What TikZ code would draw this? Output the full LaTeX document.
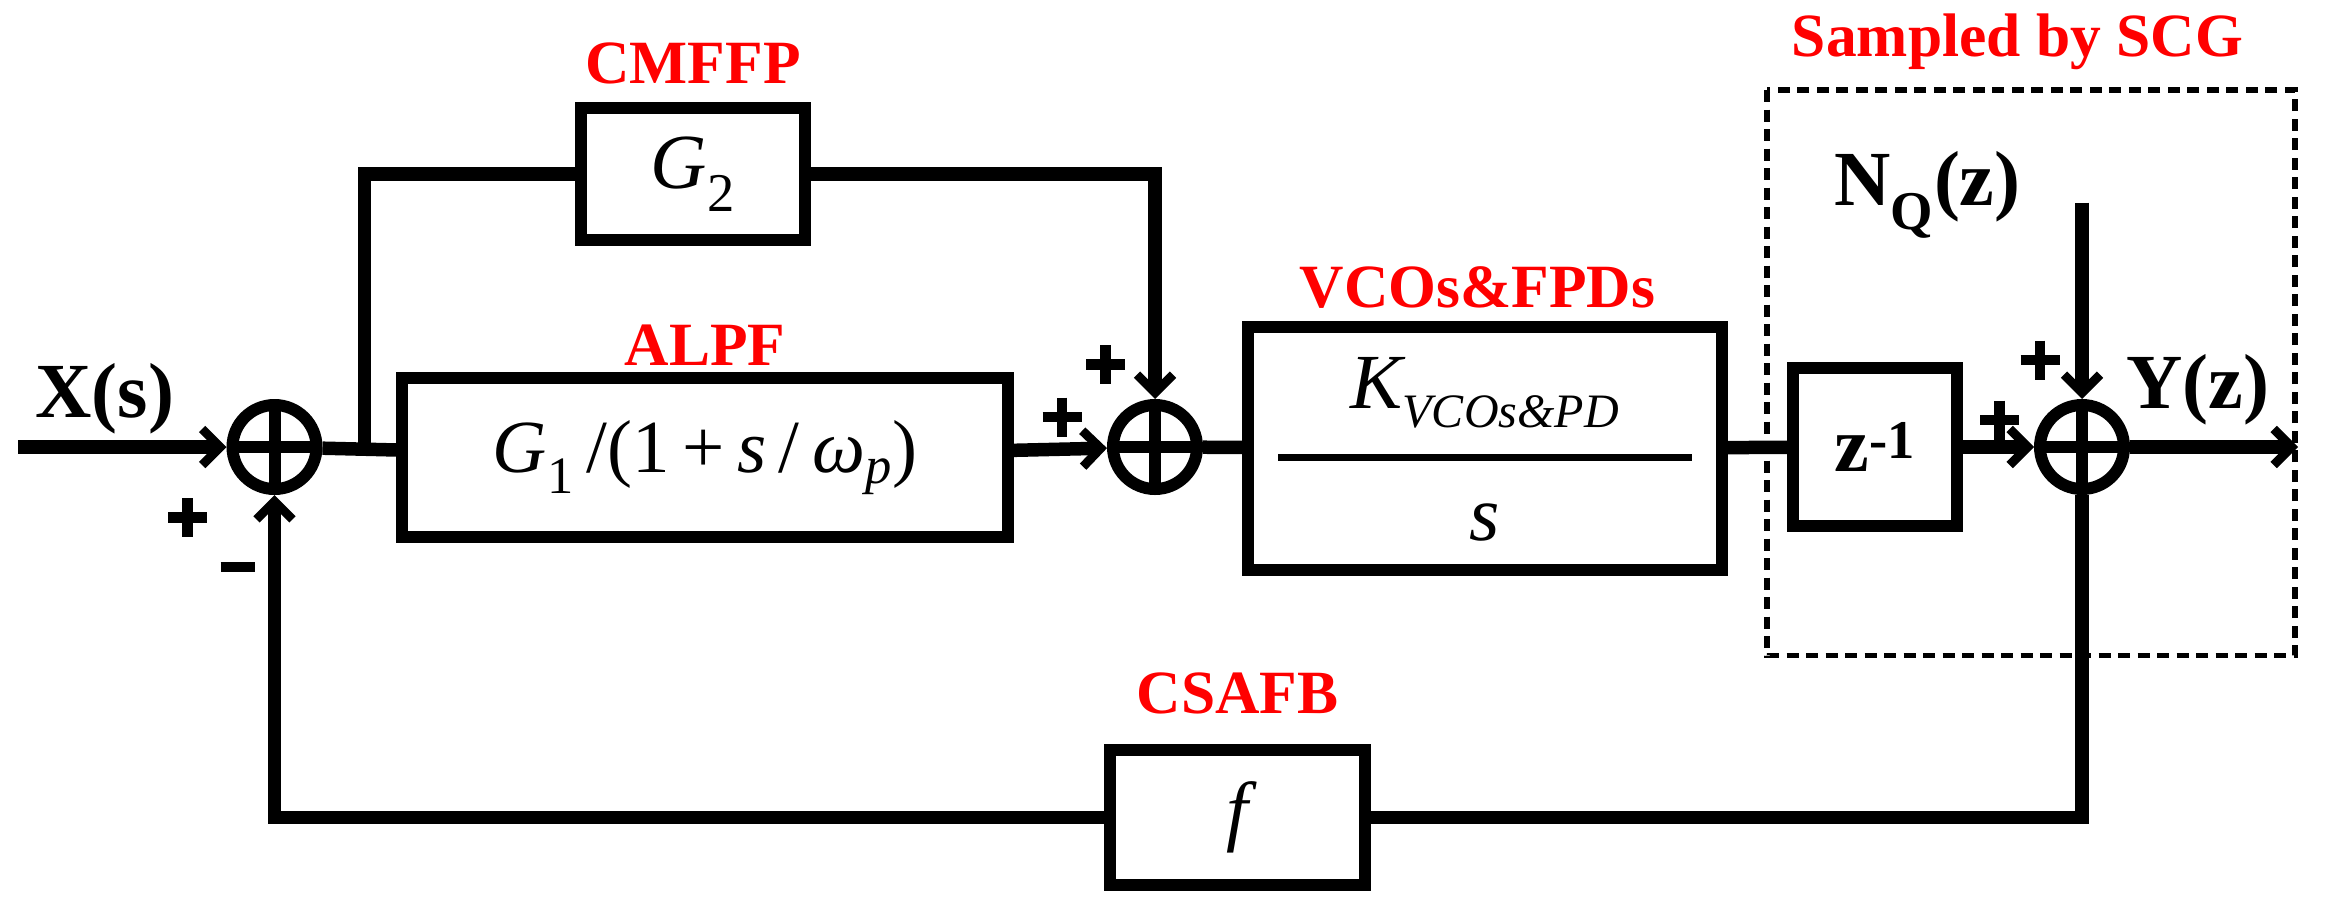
\documentclass[tikz,border=0pt]{standalone}
\usepackage{fontspec}
\setmainfont{Liberation Serif}
\usetikzlibrary{arrows.meta}
\begin{document}
\begin{tikzpicture}[x=1pt,y=-1pt,line width=9pt,
 blk/.style={draw,line width=8pt,minimum width=#1,inner sep=0pt},
 sum/.style={draw,circle,minimum size=56pt,inner sep=0pt,line width=8pt,
   path picture={\draw[line width=8pt] (path picture bounding box.north)--(path picture bounding box.south)
   (path picture bounding box.west)--(path picture bounding box.east);}},
 arr/.style={-{Straight Barb[length=12pt,width=24pt,line width=6pt]}},
 lbl/.style={text=red,font=\fontsize{41}{44}\selectfont\bfseries},
 pl/.style={line width=7pt},
 txt/.style={font=\fontsize{52}{56}\selectfont\bfseries}]
\useasboundingbox (0,0) rectangle (1560,606);
\node[sum] (s1) at (183,298) {};
\node[sum] (s2) at (770,298) {};
\node[sum] (s3) at (1388,298) {};
\node[blk=149pt,minimum height=88pt] (g2) at (462,116) {\fontsize{52}{56}\selectfont\itshape G\textsubscript{\upshape 2}};
\node[blk=404pt,minimum height=106pt] (a) at (470,305) {\fontsize{50}{56}\selectfont\itshape G\textsubscript{\upshape 1}\upshape\,/(1\,+\,\itshape s\upshape\,/\,\itshape ω\textsubscript{p}\upshape)};
\node[blk=316pt,minimum height=162pt] (v) at (990,299) {};
\draw[line width=5pt] (852,305) -- (1128,305);
\node[font=\fontsize{52}{56}\selectfont\itshape] (vk) at (990,262) {K\textsubscript{\fontsize{32}{34}\selectfont VCOs\&PD}};
\node[font=\fontsize{52}{56}\selectfont\itshape] (vs) at (990,348) {s};
\node[blk=109pt,minimum height=105pt] (z) at (1250,298) {\fontsize{52}{56}\selectfont\bfseries z\textsuperscript{-1}};
\node[blk=170pt,minimum height=90pt] (f) at (825,545) {\fontsize{52}{56}\selectfont\itshape f};
\draw[line width=3.5pt,dash pattern=on 8pt off 5pt] (1178,60) rectangle (1530,437);
\coordinate (in) at (12,298);
\coordinate (br) at (243,298);
\coordinate (nq) at (1388,135);
\coordinate (out) at (1532,298);
\draw[arr] (in) -- (s1);
\draw (s1) -- (a);
\draw (br) |- (g2);
\draw[arr] (g2.east) -| (s2);
\draw[arr] (a) -- (s2);
\draw (s2) -- (v);
\draw (v) -- (z);
\draw[arr] (z) -- (s3);
\draw[arr] (nq) -- (s3);
\draw[arr] (s3) -- (out);
\draw (s3) |- (f);
\draw[arr] (f) -| (s1);
\node[txt] at (70,266) {X(s)};
\node[txt] at (1285,130) {N\textsubscript{Q}(z)};
\node[txt] at (1465,260) {Y(z)};
\foreach \x/\y in {125/345,708/278,737/243,1333/280,1360/240}
  \draw[pl] (\x-13,\y) -- (\x+13,\y) (\x,\y-13) -- (\x,\y+13);
\draw[pl] (147,378) -- (170,378);
\node[lbl] at (462,42) {CMFFP};
\node[lbl] at (470,230) {ALPF};
\node[lbl] at (985,192) {VCOs\&FPDs};
\node[lbl] at (1345,28) {Sampled by SCG};
\node[lbl] at (825,462) {CSAFB};
\end{tikzpicture}
\end{document}
